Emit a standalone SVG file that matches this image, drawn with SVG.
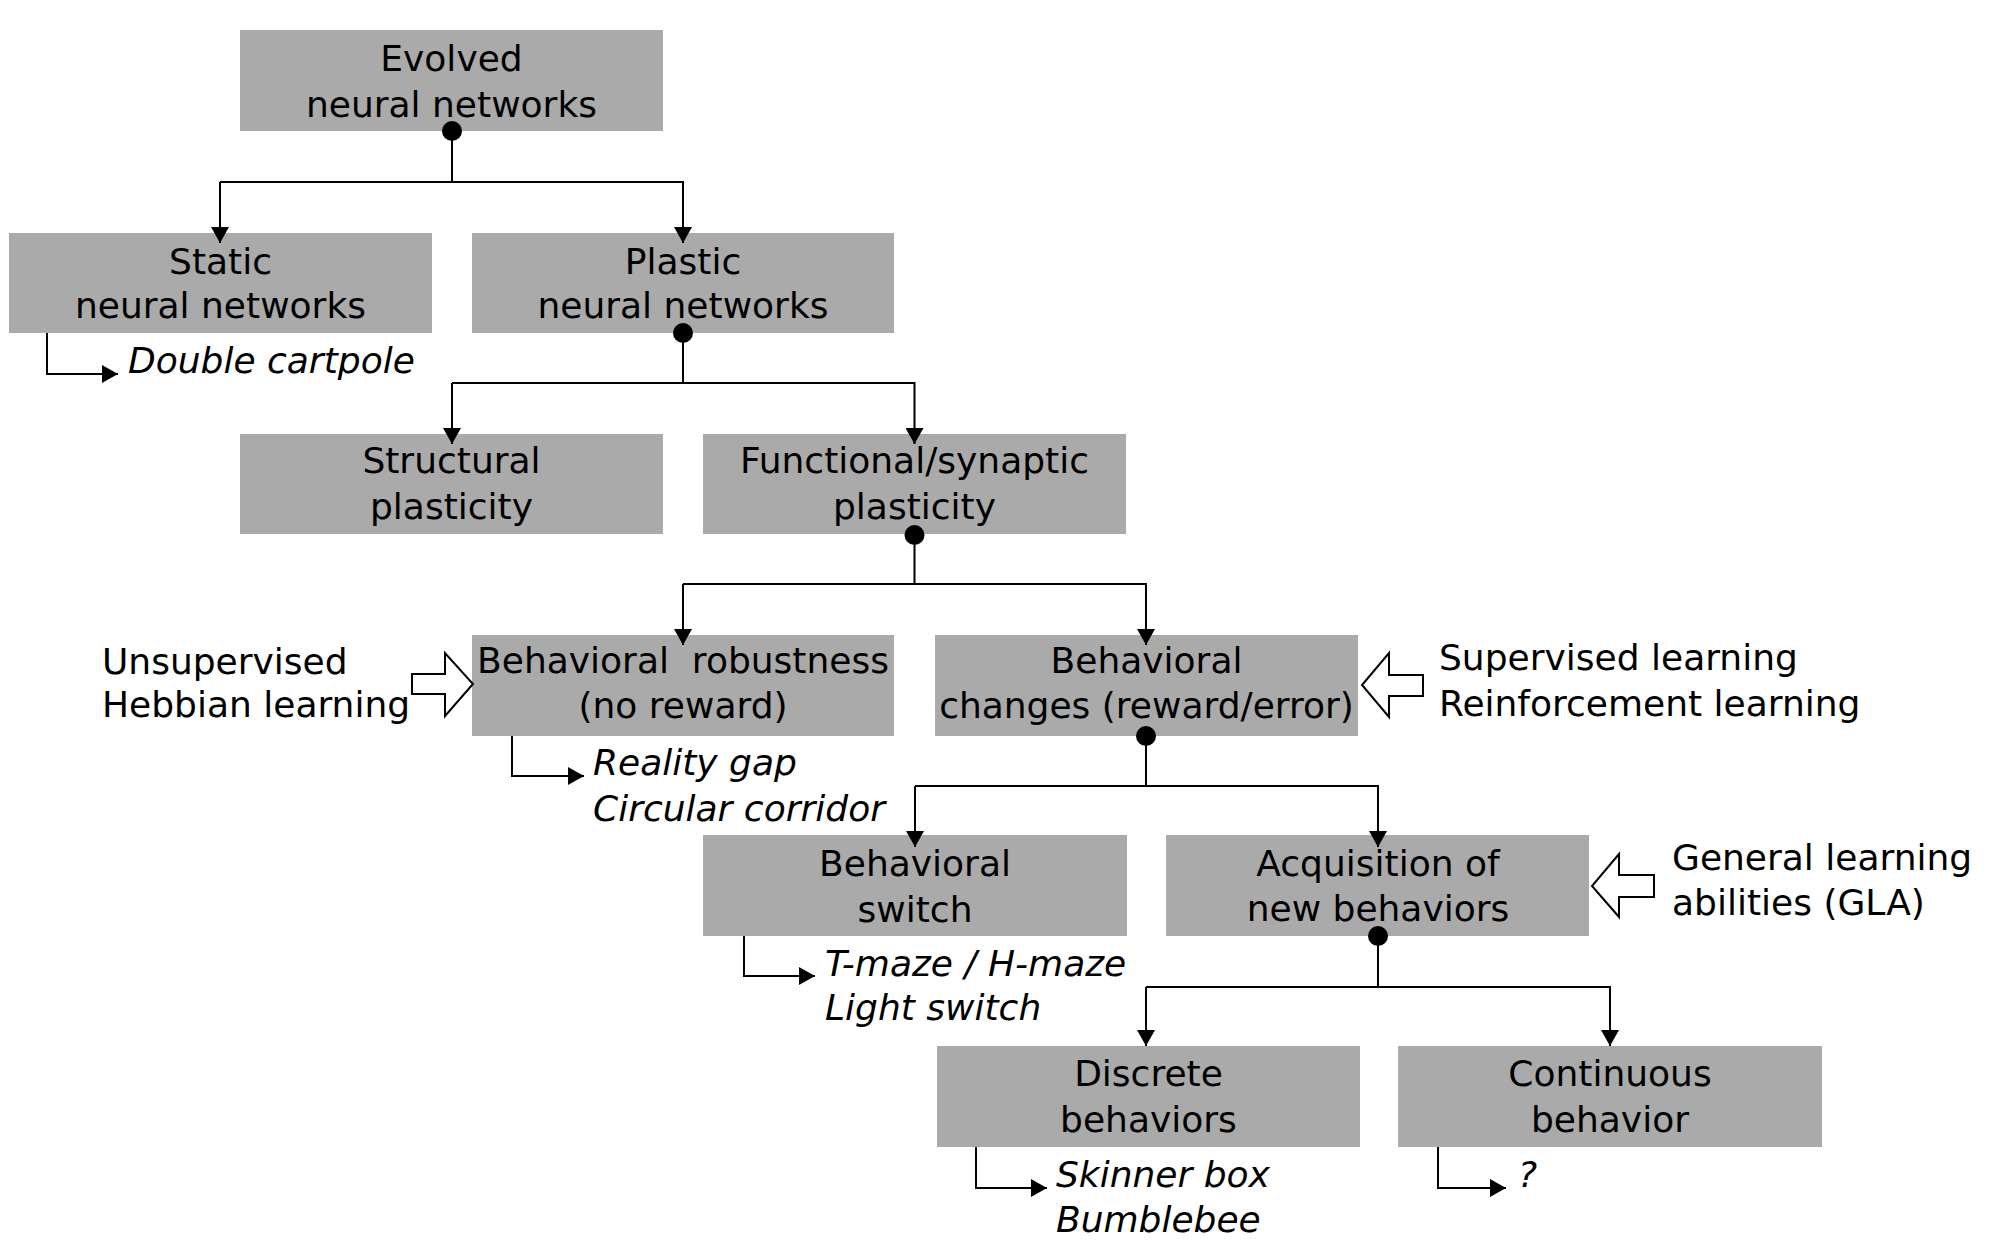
<svg xmlns="http://www.w3.org/2000/svg" width="2000" height="1251" viewBox="0 0 2000 1251">
<style>
.box{fill:#aaaaaa;}
.t{font-family:"DejaVu Sans","Verdana",sans-serif;font-size:36px;fill:#000;}
.c{text-anchor:middle;}
.i{font-style:italic;}
.ln{fill:none;stroke:#000;stroke-width:2;}
.hol{fill:#fff;stroke:#000;stroke-width:2;}
</style>
<defs>
<marker id="ah" viewBox="0 0 16 18" refX="16" refY="9" markerWidth="16" markerHeight="18" markerUnits="userSpaceOnUse" orient="auto">
<path d="M0,0 L16,9 L0,18 z" fill="#000"/>
</marker>
</defs>
<rect width="2000" height="1251" fill="#fff"/>

<g id="evolved">
<rect class="box" x="240" y="30" width="423" height="101"/>
<text class="t c" x="451.5" y="71">Evolved</text>
<text class="t c" x="451.5" y="117">neural networks</text>
</g>
<g id="static">
<rect class="box" x="9" y="233" width="423" height="100"/>
<text class="t c" x="220.5" y="274">Static</text>
<text class="t c" x="220.5" y="318">neural networks</text>
</g>
<g id="plastic">
<rect class="box" x="472" y="233" width="422" height="100"/>
<text class="t c" x="683" y="274">Plastic</text>
<text class="t c" x="683" y="318">neural networks</text>
</g>
<g id="structural">
<rect class="box" x="240" y="434" width="423" height="100"/>
<text class="t c" x="451.5" y="473">Structural</text>
<text class="t c" x="451.5" y="519">plasticity</text>
</g>
<g id="functional">
<rect class="box" x="703" y="434" width="423" height="100"/>
<text class="t c" x="914.5" y="473">Functional/synaptic</text>
<text class="t c" x="914.5" y="519">plasticity</text>
</g>
<g id="robustness">
<rect class="box" x="472" y="635" width="422" height="101"/>
<text class="t c" x="683" y="673" xml:space="preserve" style="white-space:pre">Behavioral  robustness</text>
<text class="t c" x="683" y="718">(no reward)</text>
</g>
<g id="changes">
<rect class="box" x="935" y="635" width="423" height="101"/>
<text class="t c" x="1146.5" y="673">Behavioral</text>
<text class="t c" x="1146.5" y="718">changes (reward/error)</text>
</g>
<g id="switch">
<rect class="box" x="703" y="835" width="424" height="101"/>
<text class="t c" x="915" y="876">Behavioral</text>
<text class="t c" x="915" y="922">switch</text>
</g>
<g id="acquisition">
<rect class="box" x="1166" y="835" width="423" height="101"/>
<text class="t c" x="1378" y="876">Acquisition of</text>
<text class="t c" x="1378" y="921">new behaviors</text>
</g>
<g id="discrete">
<rect class="box" x="937" y="1046" width="423" height="101"/>
<text class="t c" x="1148.5" y="1086">Discrete</text>
<text class="t c" x="1148.5" y="1132">behaviors</text>
</g>
<g id="continuous">
<rect class="box" x="1398" y="1046" width="424" height="101"/>
<text class="t c" x="1610" y="1086">Continuous</text>
<text class="t c" x="1610" y="1132">behavior</text>
</g>

<g id="examples">
<text class="t i" x="128" y="373">Double cartpole</text>
<text class="t i" x="593" y="775">Reality gap</text>
<text class="t i" x="593" y="821">Circular corridor</text>
<text class="t i" x="825" y="976">T-maze / H-maze</text>
<text class="t i" x="825" y="1020">Light switch</text>
<text class="t i" x="1056" y="1187">Skinner box</text>
<text class="t i" x="1056" y="1232">Bumblebee</text>
<text class="t i" x="1518" y="1187">?</text>
</g>
<g id="labels">
<text class="t" x="102" y="674">Unsupervised</text>
<text class="t" x="102" y="717">Hebbian learning</text>
<text class="t" x="1439" y="670">Supervised learning</text>
<text class="t" x="1439" y="716">Reinforcement learning</text>
<text class="t" x="1672" y="870">General learning</text>
<text class="t" x="1672" y="915">abilities (GLA)</text>
</g>

<g id="connectors">
<path class="ln" d="M452 131 V182 M220 182 H683 V243" marker-end="url(#ah)"/>
<path class="ln" d="M220 182 V243" marker-end="url(#ah)"/>
<path class="ln" d="M683 333 V383 M452 383 H914.5 V444" marker-end="url(#ah)"/>
<path class="ln" d="M452 383 V444" marker-end="url(#ah)"/>
<path class="ln" d="M914.5 535 V584 M683 584 H1146 V645" marker-end="url(#ah)"/>
<path class="ln" d="M683 584 V645" marker-end="url(#ah)"/>
<path class="ln" d="M1146 736 V786 M915 786 H1378 V847" marker-end="url(#ah)"/>
<path class="ln" d="M915 786 V847" marker-end="url(#ah)"/>
<path class="ln" d="M1378 936 V987 M1146 987 H1610 V1046" marker-end="url(#ah)"/>
<path class="ln" d="M1146 987 V1046" marker-end="url(#ah)"/>
<circle cx="452" cy="131" r="10"/>
<circle cx="683" cy="333" r="10"/>
<circle cx="914.5" cy="535" r="10"/>
<circle cx="1146" cy="736" r="10"/>
<circle cx="1378" cy="936" r="10"/>
<path class="ln" d="M47 333 V374 H118" marker-end="url(#ah)"/>
<path class="ln" d="M512 736 V776 H584" marker-end="url(#ah)"/>
<path class="ln" d="M744 936 V976 H815" marker-end="url(#ah)"/>
<path class="ln" d="M976 1147 V1188 H1047" marker-end="url(#ah)"/>
<path class="ln" d="M1438 1147 V1188 H1506" marker-end="url(#ah)"/>
<polygon class="hol" points="412,674 445,674 445,653 473,684 445,716 445,694 412,694"/>
<polygon class="hol" points="1423,675 1389,675 1389,653 1362,685 1389,717 1389,696 1423,696"/>
<polygon class="hol" points="1654,875 1619,875 1619,854 1592,886 1619,917 1619,897 1654,897"/>
</g>
</svg>
